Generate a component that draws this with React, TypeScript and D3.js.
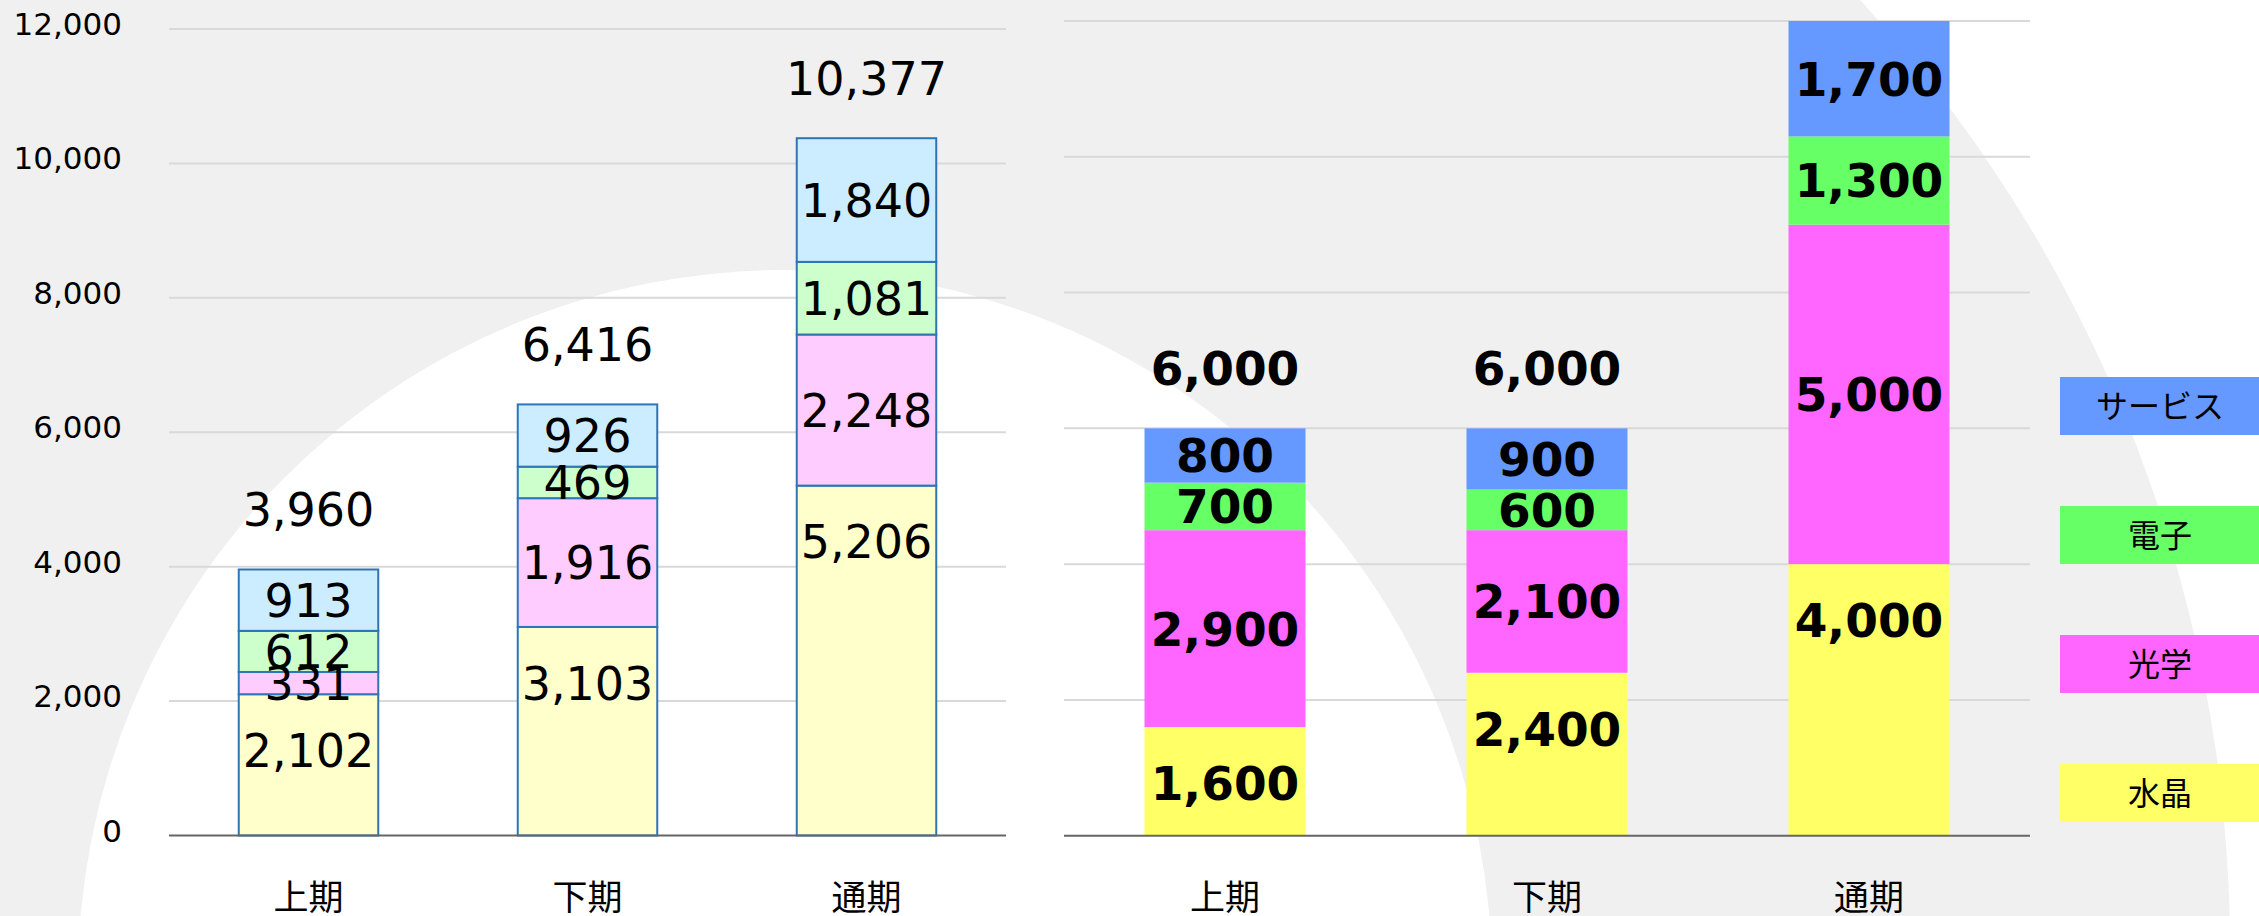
import React, { useEffect, useRef } from 'react';
import * as d3 from 'd3';

const categories = ['上期', '下期', '通期'];
const seriesKeys = ['水晶', '光学', '電子', 'サービス'];
const legendOrder = ['サービス', '電子', '光学', '水晶'];

// left panel (light bars)
const actualCrystal = [2102, 3103, 5206];
const actualOptical = [331, 1916, 2248];
const actualElectronic = [612, 469, 1081];
const actualService = [913, 926, 1840];
const actualTotals = [3960, 6416, 10377];

// right panel (solid bars)
const planCrystal = [1600, 2400, 4000];
const planOptical = [2900, 2100, 5000];
const planElectronic = [700, 600, 1300];
const planService = [800, 900, 1700];
const planTotals = [6000, 6000, null];

const yTicks = [0, 2000, 4000, 6000, 8000, 10000, 12000];

const lightColors = ['#FFFFCC', '#FFCCFF', '#CCFFCC', '#CCECFF'];
const solidColors = ['#FFFF66', '#FF66FF', '#66FF66', '#6699FF'];

const W = 2259;
const H = 916;
const font = "'DejaVu Sans', 'Noto Sans CJK JP', sans-serif";
const fmt = d3.format(',');

const buildRows = (cols) =>
  categories.map((c, i) => {
    const row = { cat: c };
    seriesKeys.forEach((k, j) => { row[k] = cols[j][i]; });
    return row;
  });

const App = () => {
  const svgRef = useRef(null);

  useEffect(() => {
    const svg = d3.select(svgRef.current);
    svg.selectAll('*').remove();

    // background decoration
    svg.append('rect').attr('width', W).attr('height', H).attr('fill', '#fff');
    svg.append('circle').attr('cx', 825).attr('cy', 950).attr('r', 1405).attr('fill', '#F0F0F0');
    svg.append('circle').attr('cx', 785).attr('cy', 977).attr('r', 707).attr('fill', '#fff');

    const drawPanel = (opts) => {
      const { left, right, top, bottom, rows, colors, stroke, bold, size, totals, axisLabels } = opts;
      const g = svg.append('g');

      const x = d3.scaleBand().domain(categories).range([left, right]).paddingInner(0.5).paddingOuter(0.25);
      const y = d3.scaleLinear().domain([0, 12000]).range([bottom, top]);

      g.selectAll('.grid')
        .data(yTicks.filter(t => t > 0))
        .join('line')
        .attr('x1', left).attr('x2', right)
        .attr('y1', d => y(d)).attr('y2', d => y(d))
        .attr('stroke', '#D9D9D9').attr('stroke-width', 2);

      if (axisLabels) {
        g.selectAll('.tick')
          .data(yTicks)
          .join('text')
          .attr('x', 122).attr('y', d => y(d) + 6)
          .attr('text-anchor', 'end')
          .attr('font-family', font).attr('font-size', 31)
          .attr('fill', '#000')
          .text(d => fmt(d));
      }

      const stacked = d3.stack().keys(seriesKeys)(rows);

      stacked.forEach((layer, j) => {
        g.append('g').selectAll('rect')
          .data(layer)
          .join('rect')
          .attr('x', d => x(d.data.cat))
          .attr('width', x.bandwidth())
          .attr('y', d => y(d[1]))
          .attr('height', d => y(d[0]) - y(d[1]))
          .attr('fill', colors[j])
          .attr('stroke', stroke || 'none')
          .attr('stroke-width', stroke ? 2 : 0);
      });

      g.append('line')
        .attr('x1', left).attr('x2', right)
        .attr('y1', y(0)).attr('y2', y(0))
        .attr('stroke', '#666').attr('stroke-width', 2);

      // bottom series label sits at the inside end, the rest are centred
      stacked.forEach((layer, j) => {
        g.append('g').selectAll('text')
          .data(layer)
          .join('text')
          .attr('x', d => x(d.data.cat) + x.bandwidth() / 2)
          .attr('y', d => (j === 0 ? y(d[1]) + 56 : y((d[0] + d[1]) / 2)))
          .attr('dy', '0.36em')
          .attr('text-anchor', 'middle')
          .attr('font-family', font).attr('font-size', size)
          .attr('font-weight', bold ? 'bold' : 'normal')
          .attr('fill', '#000')
          .text(d => fmt(d[1] - d[0]));
      });

      const tops = stacked[stacked.length - 1];
      g.append('g').selectAll('text')
        .data(categories.map((c, i) => ({ c, total: totals[i], top: tops[i][1] })).filter(d => d.total != null))
        .join('text')
        .attr('x', d => x(d.c) + x.bandwidth() / 2)
        .attr('y', d => y(d.top) - 43)
        .attr('text-anchor', 'middle')
        .attr('font-family', font).attr('font-size', size)
        .attr('font-weight', bold ? 'bold' : 'normal')
        .attr('fill', '#000')
        .text(d => fmt(d.total));

      g.append('g').selectAll('text')
        .data(categories)
        .join('text')
        .attr('x', d => x(d) + x.bandwidth() / 2)
        .attr('y', 897)
        .attr('dy', '0.36em')
        .attr('text-anchor', 'middle')
        .attr('font-family', font).attr('font-size', 35)
        .attr('fill', '#000')
        .text(d => d);
    };

    drawPanel({
      left: 169, right: 1006, top: 29, bottom: 835.5,
      rows: buildRows([actualCrystal, actualOptical, actualElectronic, actualService]),
      colors: lightColors, stroke: '#2E75B6', bold: false, size: 46,
      totals: actualTotals, axisLabels: true,
    });

    drawPanel({
      left: 1064, right: 2030, top: 21, bottom: 835.7,
      rows: buildRows([planCrystal, planOptical, planElectronic, planService]),
      colors: solidColors, stroke: null, bold: true, size: 47,
      totals: planTotals, axisLabels: false,
    });

    // legend
    const legend = svg.append('g');
    const item = legend.selectAll('g')
      .data(legendOrder)
      .join('g')
      .attr('transform', (d, i) => `translate(2060, ${377 + i * 129})`);
    item.append('rect')
      .attr('width', 199).attr('height', 58)
      .attr('fill', d => solidColors[seriesKeys.indexOf(d)]);
    item.append('text')
      .attr('x', 100).attr('y', 29).attr('dy', '0.38em')
      .attr('text-anchor', 'middle')
      .attr('font-family', font).attr('font-size', 32)
      .attr('fill', '#000')
      .text(d => d);
  }, []);

  return (
    <svg ref={svgRef} width={W} height={H} style={{ position: 'absolute', left: 0, top: 0, display: 'block' }} />
  );
};

export default App;
